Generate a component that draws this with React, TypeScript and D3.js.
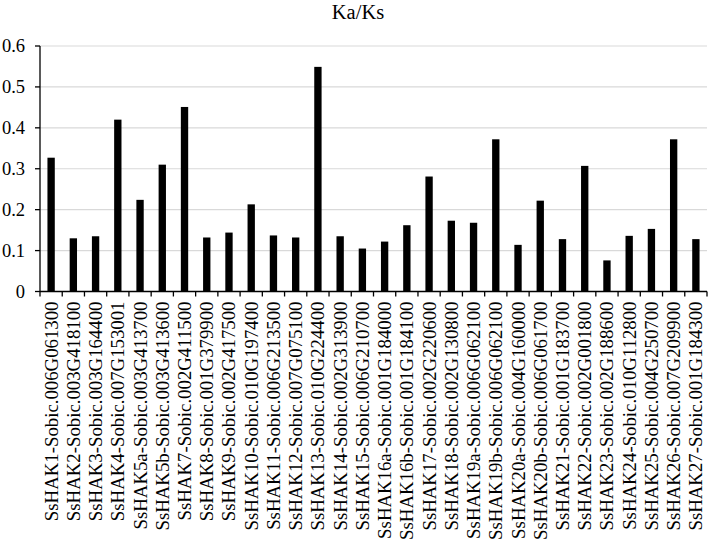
import React from "react";
import * as d3 from "d3";

const categories: string[] = [
  "SsHAK1-Sobic.006G061300",
  "SsHAK2-Sobic.003G418100",
  "SsHAK3-Sobic.003G164400",
  "SsHAK4-Sobic.007G153001",
  "SsHAK5a-Sobic.003G413700",
  "SsHAK5b-Sobic.003G413600",
  "SsHAK7-Sobic.002G411500",
  "SsHAK8-Sobic.001G379900",
  "SsHAK9-Sobic.002G417500",
  "SsHAK10-Sobic.010G197400",
  "SsHAK11-Sobic.006G213500",
  "SsHAK12-Sobic.007G075100",
  "SsHAK13-Sobic.010G224400",
  "SsHAK14-Sobic.002G313900",
  "SsHAK15-Sobic.006G210700",
  "SsHAK16a-Sobic.001G184000",
  "SsHAK16b-Sobic.001G184100",
  "SsHAK17-Sobic.002G220600",
  "SsHAK18-Sobic.002G130800",
  "SsHAK19a-Sobic.006G062100",
  "SsHAK19b-Sobic.006G062100",
  "SsHAK20a-Sobic.004G160000",
  "SsHAK20b-Sobic.006G061700",
  "SsHAK21-Sobic.001G183700",
  "SsHAK22-Sobic.002G001800",
  "SsHAK23-Sobic.002G188600",
  "SsHAK24-Sobic.010G112800",
  "SsHAK25-Sobic.004G250700",
  "SsHAK26-Sobic.007G209900",
  "SsHAK27-Sobic.001G184300",
];

const kaks: number[] = [
  0.327, 0.130, 0.135, 0.420, 0.224, 0.310, 0.451, 0.132, 0.144, 0.213,
  0.137, 0.132, 0.549, 0.135, 0.105, 0.122, 0.162, 0.281, 0.173, 0.168,
  0.372, 0.114, 0.222, 0.128, 0.307, 0.076, 0.136, 0.153, 0.372, 0.128,
];

const yTicks: number[] = [0, 0.1, 0.2, 0.3, 0.4, 0.5, 0.6];
const title = "Ka/Ks";

const W = 709;
const H = 545;
const FONT = "Liberation Serif";

export default function App() {
  const x = d3
    .scaleBand<string>()
    .domain(categories)
    .range([40, 707])
    .paddingInner(0.67)
    .paddingOuter(0.335);
  const y = d3.scaleLinear().domain([0, 0.6]).range([291.5, 46]);
  const step = x.step();
  const left = 40;
  const right = 707;
  const y0 = y(0);

  return (
    <div style={{ position: "absolute", left: 0, top: 0 }}>
      <svg width={W} height={H} style={{ display: "block", background: "#fff" }}>
        <text x={358} y={18.5} textAnchor="middle" fontFamily={FONT} fontSize={20.5} fill="#000">
          {title}
        </text>
        {yTicks.map((t) => (
          <g key={"g" + t}>
            {t !== 0 && (
              <line x1={left} x2={right} y1={y(t)} y2={y(t)} stroke="#d9d9d9" strokeWidth={1.2} />
            )}
            <line x1={left - 5} x2={left} y1={y(t)} y2={y(t)} stroke="#000" strokeWidth={1.3} />
            <text
              x={25}
              y={y(t)}
              textAnchor="end"
              dominantBaseline="central"
              fontFamily={FONT}
              fontSize={18.5}
              fill="#000"
            >
              {d3.format("")(t)}
            </text>
          </g>
        ))}
        {categories.map((c, i) => (
          <rect
            key={"b" + c}
            x={x(c)}
            y={y(kaks[i])}
            width={x.bandwidth()}
            height={y0 - y(kaks[i])}
            fill="#000"
          />
        ))}
        <line x1={left} x2={left} y1={y(0.6)} y2={y0} stroke="#000" strokeWidth={1.3} />
        <line x1={left} x2={right} y1={y0} y2={y0} stroke="#000" strokeWidth={1.3} />
        {d3.range(categories.length + 1).map((i) => (
          <line
            key={"t" + i}
            x1={left + i * step}
            x2={left + i * step}
            y1={y0}
            y2={y0 + 5}
            stroke="#000"
            strokeWidth={1.3}
          />
        ))}
        {categories.map((c) => {
          const cx = (x(c) as number) + x.bandwidth() / 2;
          return (
            <text
              key={"l" + c}
              transform={`translate(${cx},301.5) rotate(-90)`}
              textAnchor="end"
              dominantBaseline="central"
              fontFamily={FONT}
              fontSize={18.8}
              fill="#000"
            >
              {c}
            </text>
          );
        })}
      </svg>
    </div>
  );
}
